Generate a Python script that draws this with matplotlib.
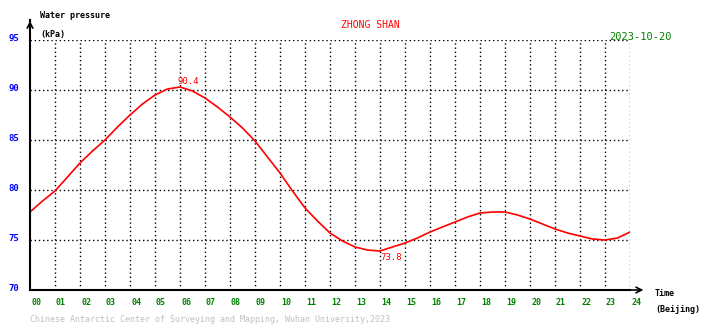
import matplotlib
matplotlib.use("Agg")
import matplotlib.pyplot as plt

# water pressure readings (kPa), half-hourly
hours = [i * 0.5 for i in range(49)]
pressure = [77.8, 78.9, 79.9, 81.3, 82.7, 83.9, 85.0, 86.3, 87.5, 88.6,
            89.5, 90.1, 90.3, 89.9, 89.2, 88.3, 87.3, 86.2, 84.9, 83.3,
            81.7, 79.9, 78.2, 76.9, 75.7, 74.9, 74.3, 74.0, 73.9, 74.3,
            74.7, 75.2, 75.8, 76.3, 76.8, 77.3, 77.7, 77.8, 77.8, 77.5,
            77.1, 76.6, 76.1, 75.7, 75.4, 75.1, 75.0, 75.2, 75.8]
xticks = list(range(25))
xlabels = [f"{h:02d}" for h in xticks]
yticks = [70, 75, 80, 85, 90, 95]
max_label = (5.9, 90.4)
min_label = (14.0, 73.8)

W, H = 710, 328
fig = plt.figure(figsize=(W / 100, H / 100), dpi=100)
fig.patch.set_facecolor("white")
ax = fig.add_axes([30 / W, (H - 290) / H, 600 / W, 250 / H])
ax.set_xlim(0, 24)
ax.set_ylim(70, 95)
mono = "DejaVu Sans Mono"

for s in ["top", "right"]:
    ax.spines[s].set_visible(False)
for s in ["left", "bottom"]:
    ax.spines[s].set_linewidth(1.5)

ax.set_xticks([])
ax.set_yticks([])
for h in xticks[1:]:
    ax.axvline(h, color="black", ls=(0, (1, 2)), lw=1)
for v in yticks[1:]:
    ax.axhline(v, color="black", ls=(0, (1, 2)), lw=1)

ax.plot(hours, pressure, color="red", lw=1.2)

for h, lab in zip(xticks, xlabels):
    ax.text(h + 0.04, 68.8, lab, color="green", fontsize=6, family=mono,
            weight="bold", ha="left", va="center", clip_on=False)
for v in yticks:
    ax.text(-0.42, v + 0.2, str(v), color="blue", fontsize=6.5, family=mono,
            weight="bold", ha="right", va="center", clip_on=False)

ax.text(max_label[0], max_label[1] + 0.5, f"{max_label[1]}", color="red",
        fontsize=6.5, family=mono, ha="left", va="center")
ax.text(min_label[0], min_label[1] - 0.5, f"{min_label[1]}", color="red",
        fontsize=6.5, family=mono, ha="left", va="center")

# axis arrows
ax.plot([0, 0], [95, 97], color="black", lw=1.5, clip_on=False)
ax.annotate("", xy=(0, 97.2), xytext=(0, 94), xycoords="data",
            arrowprops=dict(arrowstyle="->", color="black", lw=1.2),
            annotation_clip=False)
ax.annotate("", xy=(24.65, 70), xytext=(23.9, 70), xycoords="data",
            arrowprops=dict(arrowstyle="->", color="black", lw=1.2),
            annotation_clip=False)

fig.text(40 / W, 1 - 16 / H, "Water pressure", fontsize=6, family=mono,
         weight="bold", ha="left", va="center", color="black")
fig.text(40 / W, 1 - 34 / H, "(kPa)", fontsize=6, family=mono,
         weight="bold", ha="left", va="center", color="black")
fig.text(370 / W, 1 - 25 / H, "ZHONG SHAN", fontsize=7, family=mono,
         ha="center", va="center", color="red")
fig.text(672 / W, 1 - 37 / H, "2023-10-20", fontsize=7.5, family=mono,
         ha="right", va="center", color="green")
fig.text(655 / W, 1 - 294 / H, "Time", fontsize=6, family=mono,
         weight="bold", ha="left", va="center", color="black")
fig.text(655 / W, 1 - 310 / H, "(Beijing)", fontsize=6, family=mono,
         weight="bold", ha="left", va="center", color="black")
fig.text(30 / W, 1 - 320 / H,
         "Chinese Antarctic Center of Surveying and Mapping, Wuhan University,2023",
         fontsize=6, family=mono, ha="left", va="center", color="#c0c0c0")

fig.savefig("out.png", dpi=100)
